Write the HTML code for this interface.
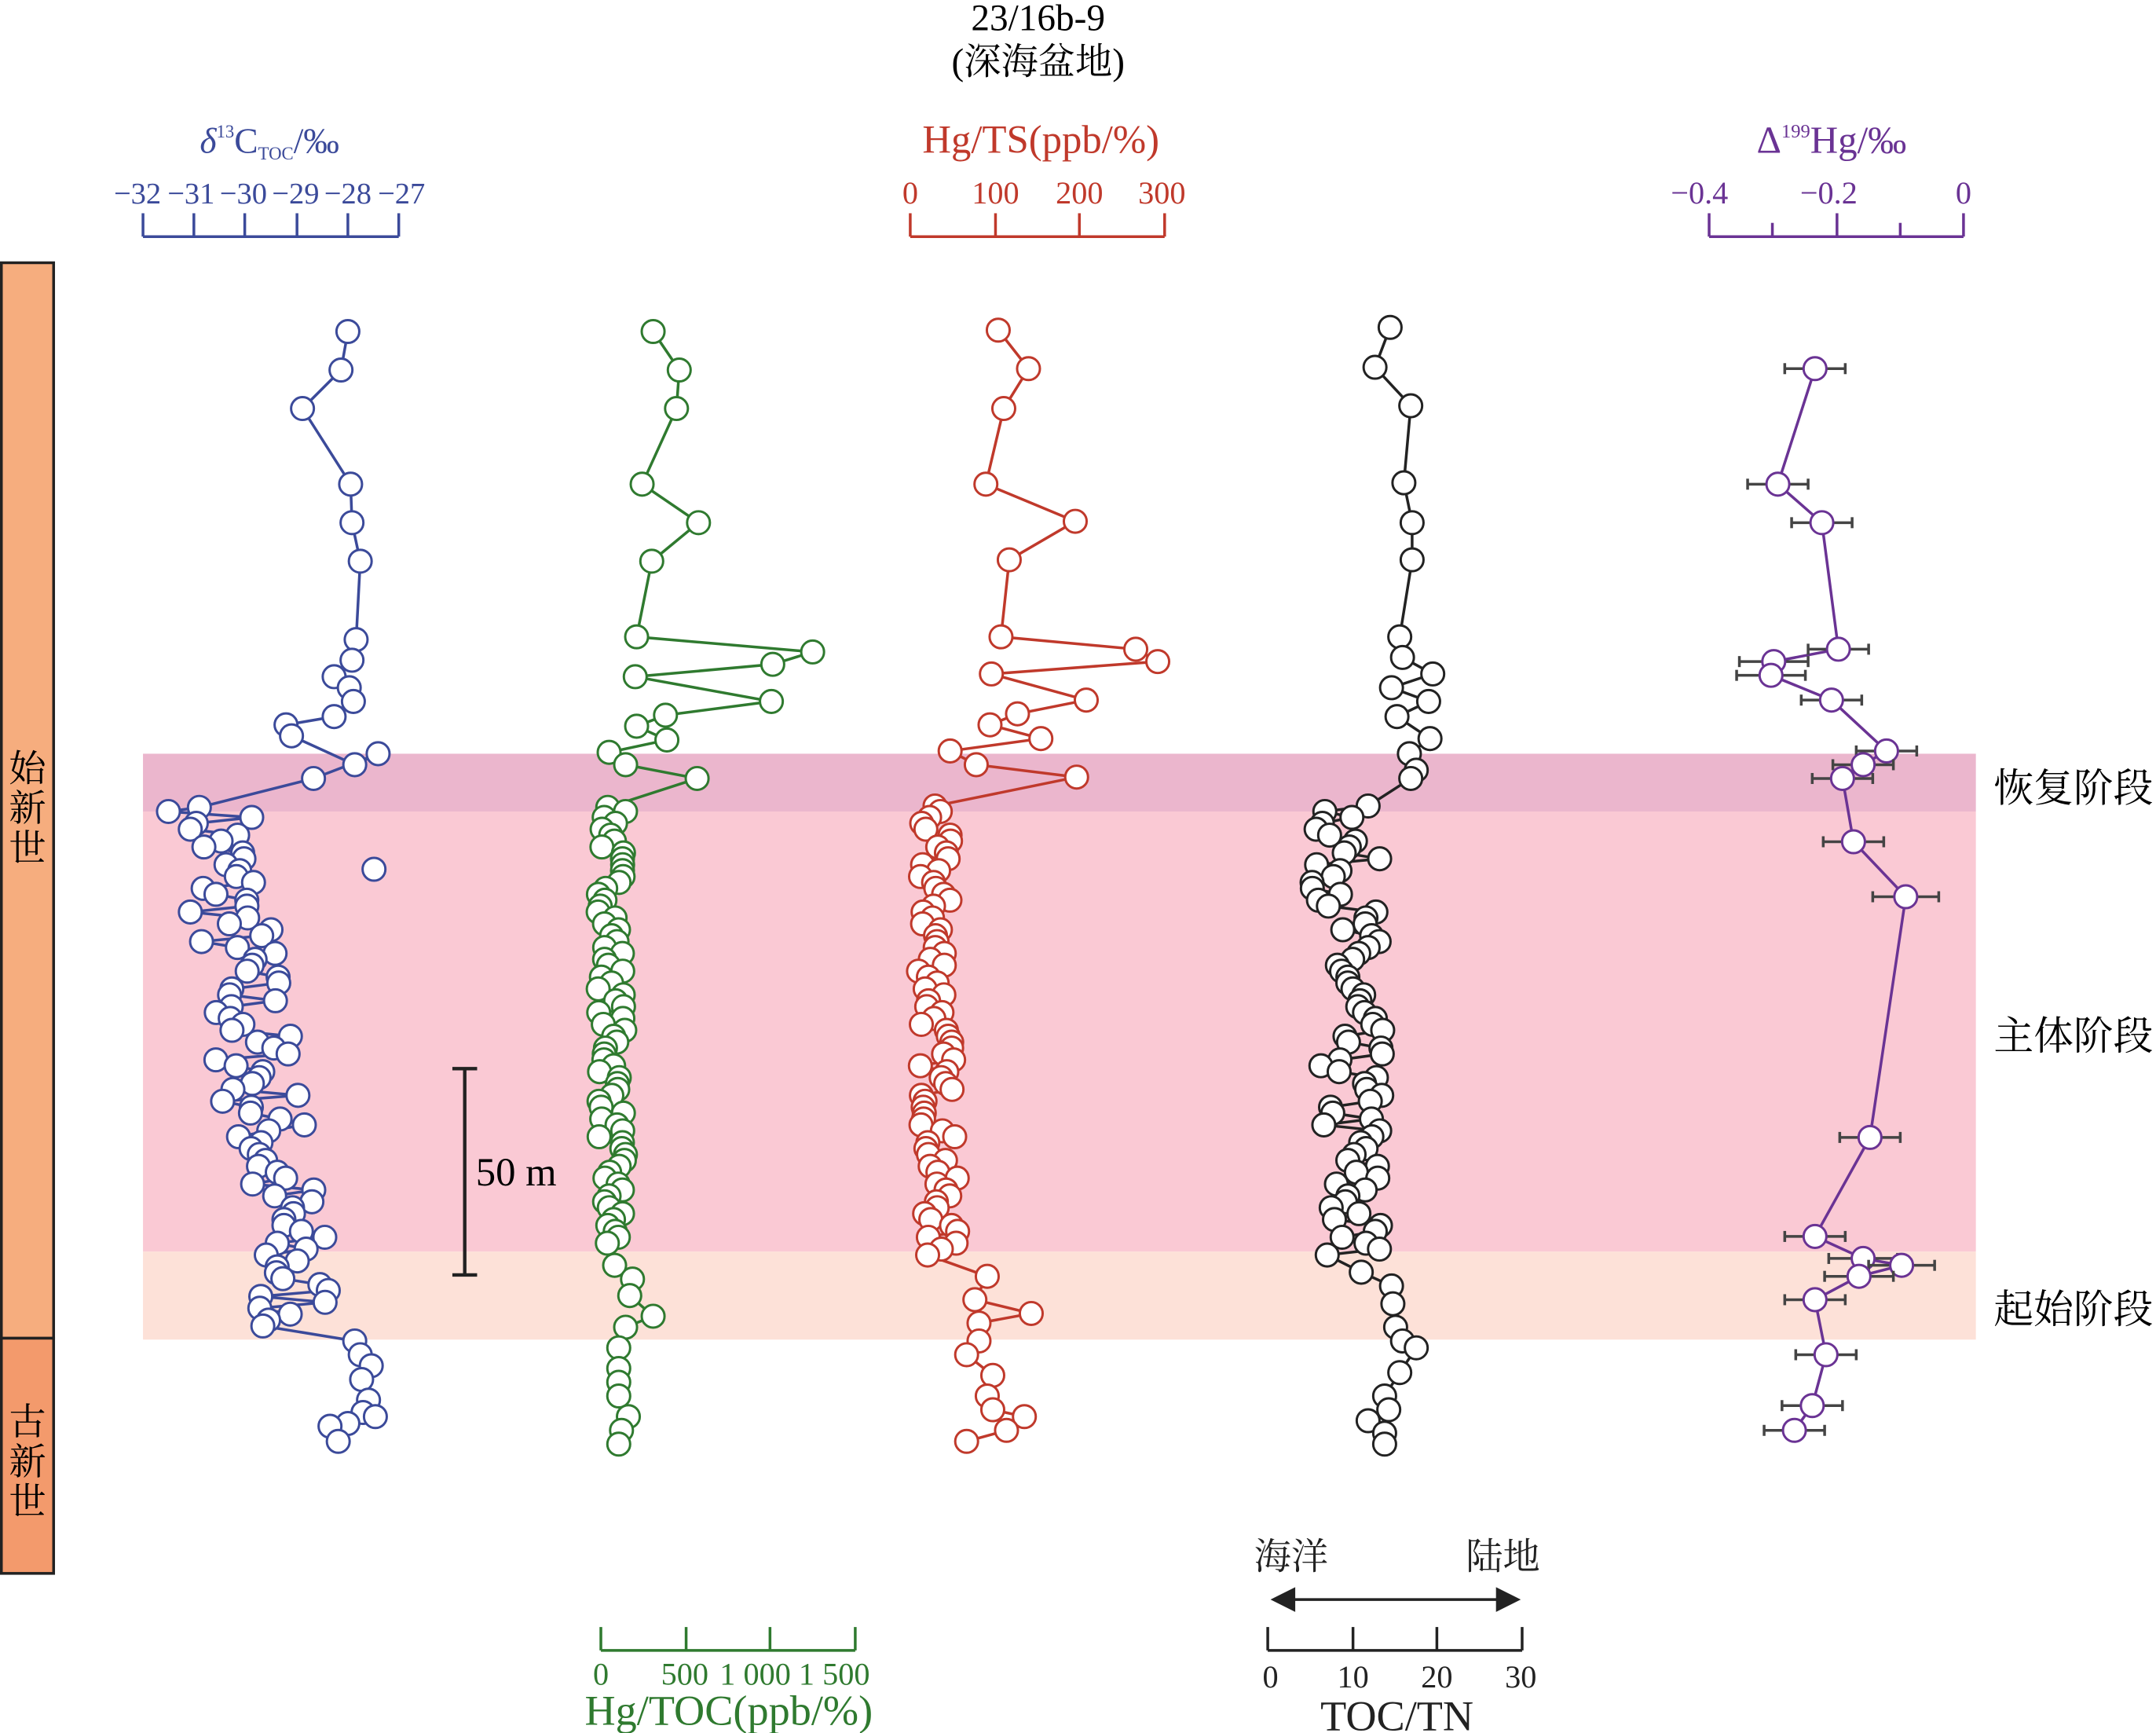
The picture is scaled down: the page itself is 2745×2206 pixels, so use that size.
<!DOCTYPE html>
<html><head><meta charset="utf-8"><style>
html,body{margin:0;padding:0;background:#fff}
svg{display:block}
text{font-family:"Liberation Serif","Noto Serif CJK SC",serif}
</style></head><body>
<svg id="s" width="2745" height="2206" viewBox="0 0 1568 1260" xmlns="http://www.w3.org/2000/svg">
<rect x="0" y="0" width="1568" height="1260" fill="#fff"/>
<rect x="104" y="548" width="1333" height="42" fill="#ebb6cd"/>
<rect x="104" y="590" width="1333" height="320" fill="#fac9d4"/>
<rect x="104" y="910" width="1333" height="64" fill="#fde1d8"/>
<rect x="1" y="191" width="38" height="782" fill="#f6ad7e" stroke="#222" stroke-width="2"/>
<rect x="1" y="973" width="38" height="171" fill="#f39a6c" stroke="#222" stroke-width="2"/>
<text x="20" y="568" font-size="27" text-anchor="middle">始</text>
<text x="20" y="597" font-size="27" text-anchor="middle">新</text>
<text x="20" y="626" font-size="27" text-anchor="middle">世</text>
<text x="20" y="1043" font-size="27" text-anchor="middle">古</text>
<text x="20" y="1072" font-size="27" text-anchor="middle">新</text>
<text x="20" y="1101" font-size="27" text-anchor="middle">世</text>
<text x="755" y="22" font-size="27" text-anchor="middle">23/16b-9</text>
<text x="755" y="54" font-size="27" text-anchor="middle">(深海盆地)</text>
<text x="1450" y="583" font-size="29">恢复阶段</text>
<text x="1450" y="763" font-size="29">主体阶段</text>
<text x="1450" y="962" font-size="29">起始阶段</text>
<g stroke="#3b4a9a" stroke-width="2" fill="none">
<line x1="104" y1="172" x2="290" y2="172"/>
<line x1="104" y1="155" x2="104" y2="172"/><line x1="141" y1="155" x2="141" y2="172"/><line x1="178" y1="155" x2="178" y2="172"/><line x1="216" y1="155" x2="216" y2="172"/><line x1="253" y1="155" x2="253" y2="172"/><line x1="290" y1="155" x2="290" y2="172"/>
</g>
<g fill="#3b4a9a" font-size="22" text-anchor="middle">
<text x="100" y="148">−32</text><text x="139" y="148">−31</text><text x="177" y="148">−30</text><text x="215" y="148">−29</text><text x="253" y="148">−28</text><text x="292" y="148">−27</text>
<text x="196" y="111" font-size="26"><tspan font-style="italic">δ</tspan><tspan font-size="13" dy="-11">13</tspan><tspan dy="11">C</tspan><tspan font-size="13" dy="5">TOC</tspan><tspan dy="-5">/‰</tspan></text>
</g>
<g stroke="#c0392b" stroke-width="2" fill="none">
<line x1="662" y1="172" x2="847" y2="172"/>
<line x1="662" y1="155" x2="662" y2="172"/><line x1="724" y1="155" x2="724" y2="172"/><line x1="785" y1="155" x2="785" y2="172"/><line x1="847" y1="155" x2="847" y2="172"/>
</g>
<g fill="#c0392b" font-size="23" text-anchor="middle">
<text x="662" y="148">0</text><text x="724" y="148">100</text><text x="785" y="148">200</text><text x="845" y="148">300</text>
<text x="757" y="111" font-size="29">Hg/TS(ppb/%)</text>
</g>
<g stroke="#6a3394" stroke-width="2" fill="none">
<line x1="1243" y1="172" x2="1428" y2="172"/>
<line x1="1243" y1="155" x2="1243" y2="172"/><line x1="1289" y1="162" x2="1289" y2="172"/><line x1="1336" y1="155" x2="1336" y2="172"/><line x1="1382" y1="162" x2="1382" y2="172"/><line x1="1428" y1="155" x2="1428" y2="172"/>
</g>
<g fill="#6a3394" font-size="23" text-anchor="middle">
<text x="1236" y="148">−0.4</text><text x="1330" y="148">−0.2</text><text x="1428" y="148">0</text>
<text x="1332" y="111" font-size="28">Δ<tspan font-size="14" dy="-11">199</tspan><tspan dy="11">Hg/‰</tspan></text>
</g>
<g stroke="#2f7a2f" stroke-width="2" fill="none">
<line x1="437" y1="1200" x2="622" y2="1200"/>
<line x1="437" y1="1183" x2="437" y2="1200"/><line x1="499" y1="1183" x2="499" y2="1200"/><line x1="560" y1="1183" x2="560" y2="1200"/><line x1="622" y1="1183" x2="622" y2="1200"/>
</g>
<g fill="#2f7a2f" font-size="23" text-anchor="middle">
<text x="437" y="1225">0</text><text x="498" y="1225">500</text><text x="578" y="1225">1 000 1 500</text>
<text x="530" y="1254" font-size="31">Hg/TOC(ppb/%)</text>
</g>
<g stroke="#222" stroke-width="2" fill="none">
<line x1="922" y1="1200" x2="1107" y2="1200"/>
<line x1="922" y1="1183" x2="922" y2="1200"/><line x1="984" y1="1183" x2="984" y2="1200"/><line x1="1045" y1="1183" x2="1045" y2="1200"/><line x1="1107" y1="1183" x2="1107" y2="1200"/>
<line x1="936" y1="1163" x2="1092" y2="1163"/>
</g>
<polygon points="924,1163 942,1154 942,1172" fill="#222"/>
<polygon points="1106,1163 1088,1154 1088,1172" fill="#222"/>
<g fill="#222" font-size="23" text-anchor="middle">
<text x="924" y="1227">0</text><text x="984" y="1227">10</text><text x="1045" y="1227">20</text><text x="1106" y="1227">30</text>
<text x="1016" y="1258" font-size="31">TOC/TN</text>
<text x="939" y="1141" font-size="27">海洋</text><text x="1093" y="1141" font-size="27">陆地</text>
</g>
<g stroke="#222" stroke-width="2.5"><line x1="338" y1="777" x2="338" y2="927"/><line x1="329" y1="777" x2="347" y2="777"/><line x1="329" y1="927" x2="347" y2="927"/></g>
<text x="346" y="862" font-size="29">50 m</text>
<g id="data"></g>
</svg>
<script>
var seed=7;function r(){seed=(seed*16807)%2147483647;return (seed-1)/2147483646;}
var NS="http://www.w3.org/2000/svg",G=document.getElementById("data");
function el(n,a){var e=document.createElementNS(NS,n);for(var k in a)e.setAttribute(k,a[k]);G.appendChild(e);return e;}
function series(pts,col){
 el("polyline",{points:pts.map(function(p){return p[0]+","+p[1]}).join(" "),fill:"none",stroke:col,"stroke-width":2});
 pts.forEach(function(p){
  if(p[2]){el("line",{x1:p[0]-p[2],y1:p[1],x2:p[0]+p[2],y2:p[1],stroke:"#444","stroke-width":2});
   el("line",{x1:p[0]-p[2],y1:p[1]-4,x2:p[0]-p[2],y2:p[1]+4,stroke:"#444","stroke-width":2});
   el("line",{x1:p[0]+p[2],y1:p[1]-4,x2:p[0]+p[2],y2:p[1]+4,stroke:"#444","stroke-width":2});}
  el("circle",{cx:p[0],cy:p[1],r:8.3,fill:"#fff",stroke:col,"stroke-width":1.7});});
}
function dense(y0,y1,f,amp){var a=[];for(var y=y0;y<=y1;y+=4.3){a.push([f(y)+(r()-0.5)*amp,y]);}return a;}
var blue=[[253,241],[248,269],[220,297],[255,352],[256,380],[262,408],[259,465],[256,480],[243,492],[254,500],[257,510],[243,521],[208,527],[212,535],[258,556],[275,548],[228,566],[145,587]];
blue=blue.concat(dense(590,965,function(y){return 155+(y-590)*0.17;},65));
blue=blue.concat([[258,975],[262,985],[270,993],[263,1003],[268,1018],[264,1027],[273,1030],[253,1035],[240,1037],[246,1048]]);
series(blue,"#3b4a9a");
el("circle",{cx:272,cy:632,r:8.3,fill:"#fff",stroke:"#3b4a9a","stroke-width":1.7});
var green=[[475,241],[494,269],[492,297],[467,352],[508,380],[474,408],[463,463],[591,474],[562,483],[462,492],[561,510],[484,520],[463,528],[485,538],[443,547],[455,556],[507,566],[442,587]];
green=green.concat(dense(590,905,function(y){return 445;},20));
green=green.concat([[447,920],[460,930],[458,942],[475,957],[455,965],[450,980],[450,995],[450,1005],[450,1015],[457,1030],[452,1040],[450,1050]]);
series(green,"#2f7a2f");
var red=[[726,240],[748,268],[730,297],[717,352],[782,379],[734,407],[728,463],[826,472],[842,481],[721,490],[790,509],[740,519],[720,527],[757,537],[691,546],[710,556],[783,565],[680,586]];
red=red.concat(dense(590,915,function(y){return 678+(y-590)*0.02;},26));
red=red.concat([[718,928],[709,945],[750,955],[712,962],[712,975],[703,985],[722,1000],[718,1015],[722,1025],[745,1030],[732,1040],[703,1048]]);
series(red,"#c0392b");
var blk=[[1011,238],[1000,267],[1026,295],[1021,351],[1027,380],[1027,407],[1018,463],[1020,478],[1042,490],[1012,500],[1039,510],[1016,521],[1040,537],[1025,548],[1030,560],[1026,566],[995,586]];
blk=blk.concat(dense(590,915,function(y){return 978+(y-590)*0.02;},50));
blk=blk.concat([[990,925],[1012,935],[1013,948],[1015,965],[1020,975],[1030,980],[1018,998],[1007,1015],[1010,1025],[995,1033],[1007,1042],[1007,1050]]);
series(blk,"#222");
var pu=[[1320,268,22],[1293,352,22],[1325,380,22],[1337,472,22],[1290,481,25],[1288,491,25],[1332,509,22],[1372,546,22],[1355,556,22],[1340,566,22],[1348,612,22],[1386,652,24],[1360,827,22],[1320,899,22],[1355,915,25],[1383,920,24],[1352,928,25],[1320,945,22],[1328,985,22],[1318,1022,22],[1305,1040,22]];
series(pu,"#6a3394");
</script>
</body></html>
